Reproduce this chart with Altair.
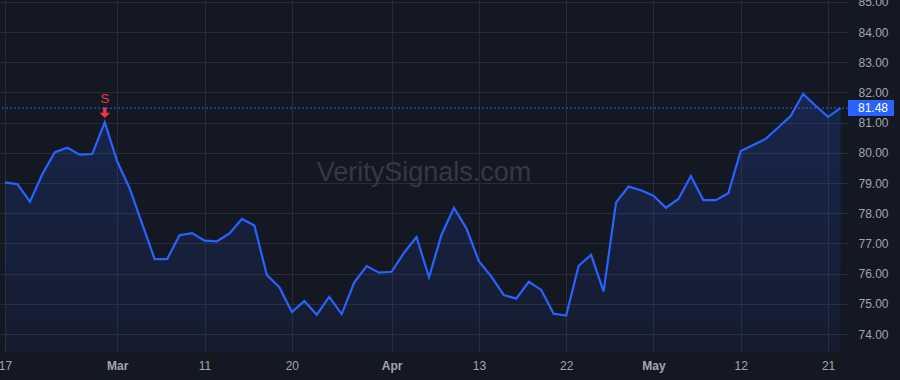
import altair as alt
import pandas as pd

# ---- data ----
prices = [79.02, 78.96, 78.38, 79.30, 80.02, 80.17, 79.94, 79.96, 81.01, 79.71,
          78.82, 77.65, 76.48, 76.48, 77.27, 77.34, 77.09, 77.07, 77.33, 77.81,
          77.59, 75.95, 75.55, 74.73, 75.09, 74.64, 75.23, 74.66, 75.70, 76.25,
          76.03, 76.06, 76.69, 77.21, 75.88, 77.28, 78.18, 77.50, 76.41, 75.90,
          75.29, 75.17, 75.73, 75.46, 74.67, 74.61, 76.26, 76.62, 75.41, 78.36,
          78.88, 78.76, 78.58, 78.18, 78.47, 79.23, 78.43, 78.43, 78.66, 80.06,
          80.26, 80.46, 80.84, 81.22, 81.95, 81.56, 81.19, 81.48]

tick_index = [0, 9, 16, 23, 31, 38, 45, 52, 59, 66]
tick_labels = ["17", "Mar", "11", "20", "Apr", "13", "22", "May", "12", "21"]
month_labels = ["Mar", "Apr", "May"]

y_ticks = [74, 75, 76, 77, 78, 79, 80, 81, 82, 83, 84, 85]

signal_index = [8]
signal_text = ["S"]

watermark = ["VeritySignals.com"]

# ---- styling ----
FONT = "Liberation Sans"
BG = "#141823"
GRID = "#282c37"
BLUE = "#2962ff"
RED = "#f23645"
LABEL = "#a3a6af"

W, H = 848, 352
X_DOM = [-0.401, 67.6]
Y_DOM = [73.404, 85.06]

df = pd.DataFrame({"i": list(range(len(prices))), "v": prices})
df["floor"] = Y_DOM[0]
last_df = pd.DataFrame({"i": [len(prices) - 1], "v": [prices[-1]]})
sig_df = pd.DataFrame({"i": signal_index,
                       "v": [prices[k] for k in signal_index],
                       "t": signal_text})
wm_df = pd.DataFrame({"t": watermark})

label_expr = " : ".join(
    f"datum.value == {k} ? '{lab}'" for k, lab in zip(tick_index, tick_labels)
) + " : ''"
bold_test = " || ".join(
    f"datum.value == {k}" for k, lab in zip(tick_index, tick_labels) if lab in month_labels
)

x_scale = alt.Scale(domain=X_DOM, nice=False, zero=False)
y_scale = alt.Scale(domain=Y_DOM, nice=False, zero=False)

x_axis = alt.Axis(values=tick_index, labelExpr=label_expr, grid=True,
                  labelFlush=False, labelOverlap=False,
                  labelFontWeight={"condition": {"test": bold_test, "value": "bold"},
                                   "value": "normal"})
y_axis = alt.Axis(orient="right", values=y_ticks, format=".2f", grid=True,
                  labelOverlap=False)

X = alt.X("i:Q", scale=x_scale, title=None, axis=x_axis)
Y = alt.Y("v:Q", scale=y_scale, title=None, axis=y_axis)

wm = alt.Chart(wm_df).mark_text(
    font=FONT, fontSize=27, color="#353944", align="center", baseline="alphabetic"
).encode(text="t:N", x=alt.value(W / 2), y=alt.value(181))

gradient = alt.Gradient(
    gradient="linear",
    stops=[alt.GradientStop(color="rgba(41,98,255,0.19)", offset=0),
           alt.GradientStop(color="rgba(41,98,255,0.05)", offset=1)],
    x1=1, x2=1, y1=0, y2=1,
)

area = alt.Chart(df).mark_area(color=gradient).encode(x=X, y=Y, y2="floor:Q")
line = alt.Chart(df).mark_line(color=BLUE, strokeWidth=2.2).encode(x=X, y=Y)

price_rule = alt.Chart(last_df).mark_rule(
    color=BLUE, strokeDash=[2, 2], strokeWidth=1
).encode(y=Y)

price_box = alt.Chart(last_df).mark_rule(
    color=BLUE, strokeWidth=16, strokeCap="butt"
).encode(x=alt.value(W), x2=alt.value(W + 46), y=Y)

price_text = alt.Chart(last_df).mark_text(
    font=FONT, fontSize=12, color="white", align="left", baseline="middle"
).encode(x=alt.value(W + 10), y=Y, text=alt.Text("v:Q", format=".2f"))

sig_text = alt.Chart(sig_df).mark_text(
    font=FONT, fontSize=13, color=RED, align="center", baseline="middle", dy=-23
).encode(x=X, y=Y, text="t:N")

ARROW = "M-0.32,-1L0.32,-1L0.32,0L1,0L0,1L-1,0L-0.32,0Z"
sig_arrow = alt.Chart(sig_df).mark_point(
    shape=ARROW, size=110, filled=True, color=RED, opacity=1, strokeWidth=0, yOffset=-9.5
).encode(x=X, y=Y)

chart = alt.layer(
    wm, area, line, price_rule, price_box, price_text, sig_text, sig_arrow
).properties(
    width=W, height=H,
    autosize=alt.AutoSizeParams(type="none"),
    padding={"left": 0, "top": 0, "right": 900 - W, "bottom": 380 - H},
    background=BG,
).configure_view(
    stroke=None
).configure_axis(
    domain=False, ticks=False, tickSize=0,
    gridColor=GRID, gridWidth=1, gridOpacity=1,
    labelFont=FONT, labelFontSize=12, labelColor=LABEL,
).configure_axisX(
    labelPadding=8, labelAlign="center", labelBaseline="top"
).configure_axisY(
    labelPadding=10, labelAlign="left", labelBaseline="middle"
)

chart.save("out.html", embed_options={"renderer": "svg", "actions": False})
